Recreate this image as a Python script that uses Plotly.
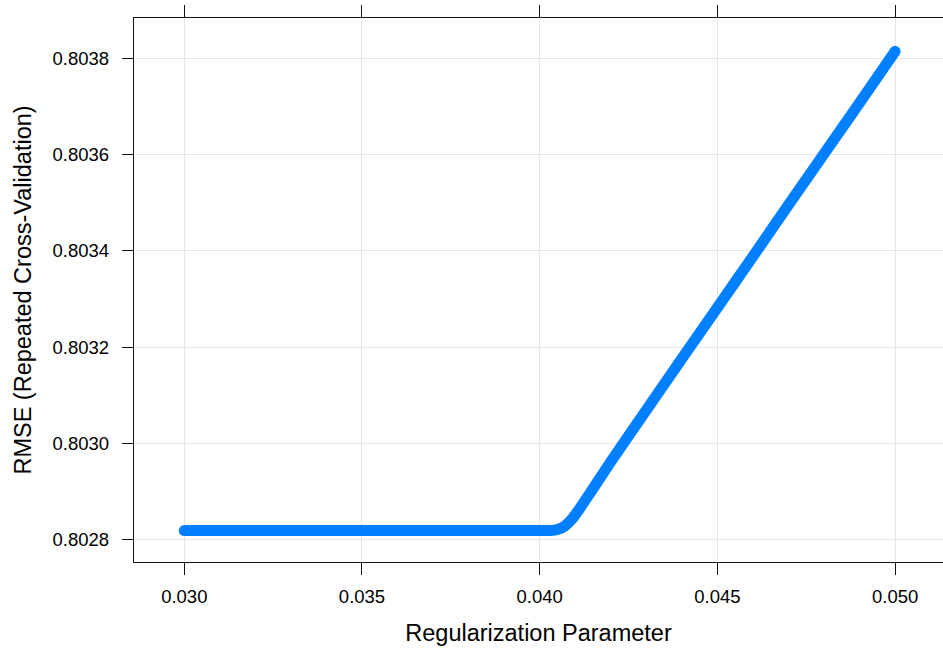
import plotly.graph_objects as go

# Tuning grid and cross-validated RMSE
reg_param = [0.0300, 0.0350, 0.0400, 0.0403, 0.0405, 0.0407, 0.0409, 0.0411,
             0.0413, 0.0415, 0.0420, 0.0430, 0.0440, 0.0450, 0.0460, 0.0470,
             0.0480, 0.0490, 0.0500]
rmse = [0.802819, 0.802819, 0.802819, 0.802819, 0.802821, 0.802828, 0.802842,
        0.802862, 0.802884, 0.802906, 0.802962, 0.803069, 0.803176, 0.803282,
        0.803388, 0.803495, 0.803601, 0.803707, 0.803814]

x_ticks = [0.030, 0.035, 0.040, 0.045, 0.050]
x_tick_text = ["0.030", "0.035", "0.040", "0.045", "0.050"]
y_ticks = [0.8028, 0.8030, 0.8032, 0.8034, 0.8036, 0.8038]
y_tick_text = ["0.8028", "0.8030", "0.8032", "0.8034", "0.8036", "0.8038"]

line_color = "#0080ff"
font_family = "Liberation Sans, Arial, Helvetica, sans-serif"

fig = go.Figure()
fig.add_trace(go.Scatter(
    x=reg_param, y=rmse,
    mode="lines",
    line=dict(color=line_color, width=11, shape="spline", smoothing=0.6),
    showlegend=False,
))
# round end caps
fig.add_trace(go.Scatter(
    x=[reg_param[0], reg_param[-1]], y=[rmse[0], rmse[-1]],
    mode="markers",
    marker=dict(color=line_color, size=11, line=dict(width=0)),
    showlegend=False,
))

fig.update_layout(
    width=943, height=648,
    margin=dict(l=134, r=0, t=18, b=86),
    paper_bgcolor="white", plot_bgcolor="white",
    font=dict(family=font_family, color="black"),
    xaxis=dict(
        range=[0.028585, 0.051348],
        tickvals=x_ticks, ticktext=x_tick_text,
        tickfont=dict(size=18.5),
        ticks="outside", ticklen=12, tickwidth=1.3, tickcolor="#111",
        showline=True, linecolor="#111", linewidth=1.3, mirror="ticks",
        showgrid=True, gridcolor="#e6e6e6", gridwidth=1,
        zeroline=False,
        title=dict(text="Regularization Parameter", font=dict(size=23.5), standoff=18),
        ticklabelstandoff=6,
    ),
    yaxis=dict(
        range=[0.8027537, 0.8038831],
        tickvals=y_ticks, ticktext=y_tick_text,
        tickfont=dict(size=18.5),
        ticks="outside", ticklen=11, tickwidth=1.3, tickcolor="#111",
        showline=True, linecolor="#111", linewidth=1.3, mirror=False,
        showgrid=True, gridcolor="#e6e6e6", gridwidth=1,
        zeroline=False,
        title=dict(text="RMSE (Repeated Cross-Validation)", font=dict(size=23.5), standoff=14),
        ticklabelstandoff=9,
    ),
)

fig.write_html("out.html")
